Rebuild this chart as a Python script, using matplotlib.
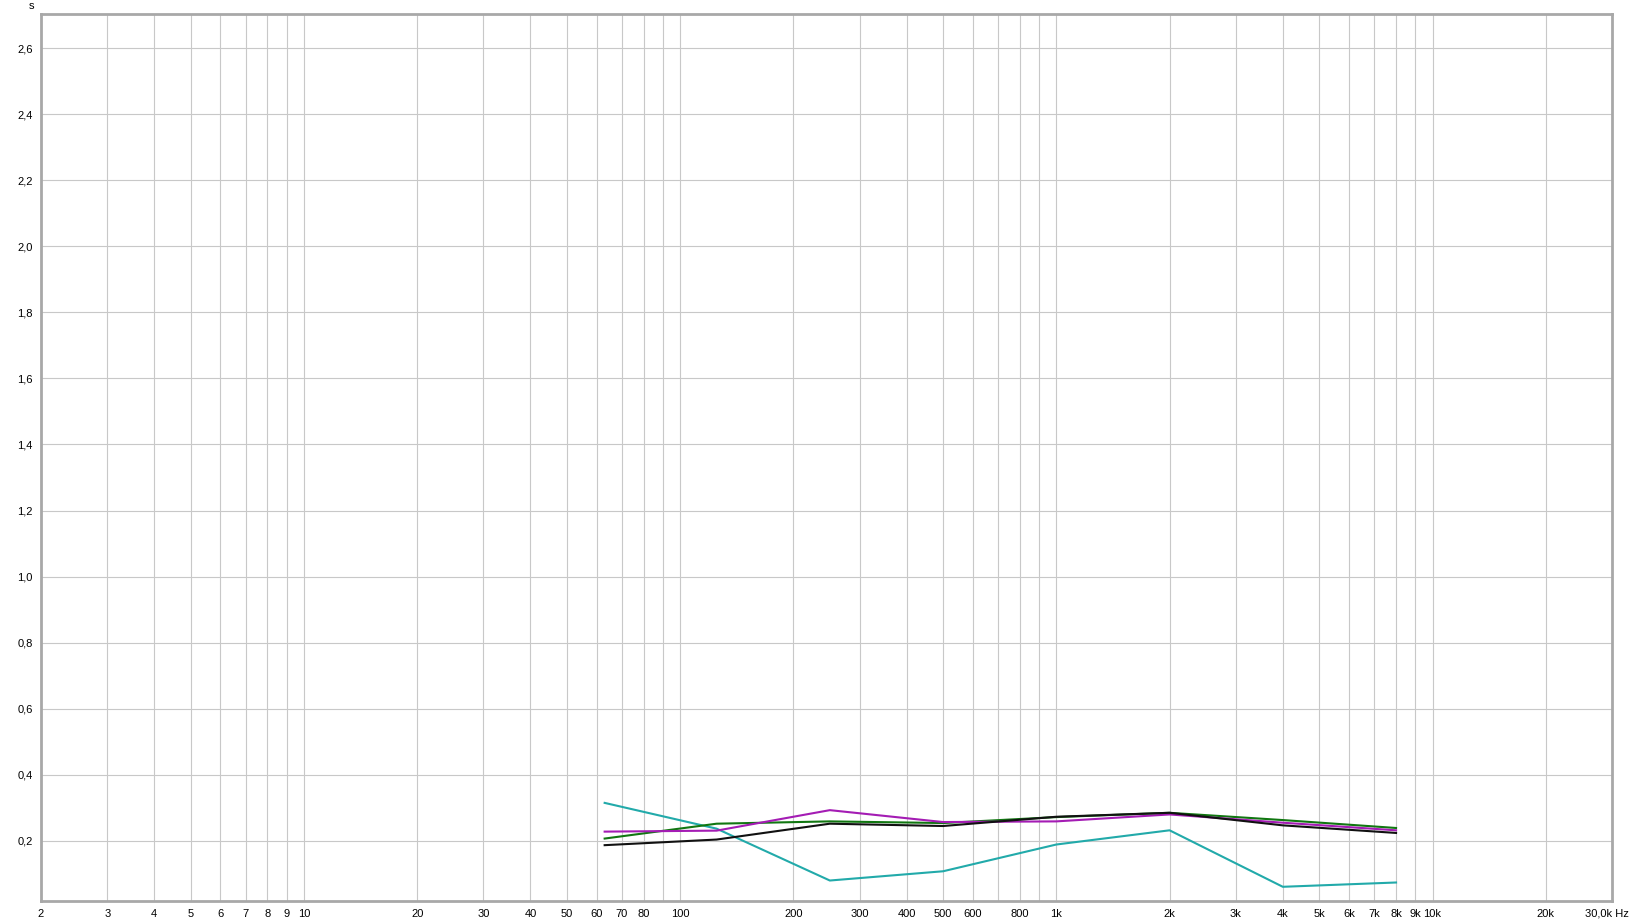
import numpy as np
import matplotlib
matplotlib.use("Agg")
import matplotlib.pyplot as plt
from matplotlib.ticker import FixedLocator, FixedFormatter, NullFormatter

plt.rcParams['font.family'] = ['Liberation Sans', 'DejaVu Sans']
plt.rcParams['font.size'] = 8

# octave band centres (Hz) and decay times (s)
freqs = [63, 125, 250, 500, 1000, 2000, 4000, 8000]
cyan_vals = [0.315, 0.237, 0.080, 0.108, 0.189, 0.232, 0.061, 0.074]
green_vals = [0.207, 0.252, 0.259, 0.254, 0.272, 0.285, 0.263, 0.239]
magenta_vals = [0.228, 0.231, 0.293, 0.257, 0.259, 0.280, 0.255, 0.232]
black_vals = [0.187, 0.204, 0.252, 0.245, 0.273, 0.285, 0.247, 0.224]

xtick_pos = [2, 3, 4, 5, 6, 7, 8, 9, 10, 20, 30, 40, 50, 60, 70, 80, 100,
             200, 300, 400, 500, 600, 800, 1000, 2000, 3000, 4000, 5000,
             6000, 7000, 8000, 9000, 10000, 20000]
xtick_labels = ['2', '3', '4', '5', '6', '7', '8', '9', '10', '20', '30', '40',
                '50', '60', '70', '80', '100', '200', '300', '400', '500', '600',
                '800', '1k', '2k', '3k', '4k', '5k', '6k', '7k', '8k', '9k',
                '10k', '20k']
ytick_vals = [0.2, 0.4, 0.6, 0.8, 1.0, 1.2, 1.4, 1.6, 1.8, 2.0, 2.2, 2.4, 2.6]

fig = plt.figure(figsize=(16.32, 9.22), dpi=100)
ax = fig.add_axes([41 / 1632, 1 - 901 / 922, (1612 - 41) / 1632, (901 - 14) / 922])

ax.set_xscale('log')
ax.set_xlim(2, 30000)
ax.set_ylim(0.018, 2.703)

# grid at every 1-2-...-9 position
grid_x = []
for dec in [1, 10, 100, 1000, 10000]:
    for m in range(1, 10):
        v = dec * m
        if 2 <= v <= 30000:
            grid_x.append(v)
for gx in grid_x:
    ax.axvline(gx, color='#c8c8c8', lw=0.8, zorder=0)
for gy in ytick_vals:
    ax.axhline(gy, color='#c8c8c8', lw=0.8, zorder=0)

ax.plot(freqs, cyan_vals, color='#22aaaa', lw=1.5, zorder=3)
ax.plot(freqs, green_vals, color='#117711', lw=1.5, zorder=4)
ax.plot(freqs, magenta_vals, color='#a41cb4', lw=1.5, zorder=5)
ax.plot(freqs, black_vals, color='#111111', lw=1.5, zorder=6)

ax.xaxis.set_major_locator(FixedLocator(xtick_pos))
ax.xaxis.set_major_formatter(FixedFormatter(xtick_labels))
ax.xaxis.set_minor_formatter(NullFormatter())
ax.tick_params(axis='x', which='both', length=0, pad=6)
ax.set_yticks(ytick_vals)
ax.set_yticklabels([f"{v:.1f}".replace('.', ',') for v in ytick_vals])
ax.tick_params(axis='y', length=0, pad=6)

for s in ax.spines.values():
    s.set_color('#a8a8a8')
    s.set_linewidth(2)

# last x label and units, kept inside the figure
fig.text(1629 / 1632, 1 - 913 / 922, '30,0k Hz', ha='right', va='center', fontsize=8)
fig.text(31 / 1632, 1 - 6 / 922, 's', ha='center', va='center', fontsize=8)

fig.savefig('out.png', dpi=100, facecolor='white')
